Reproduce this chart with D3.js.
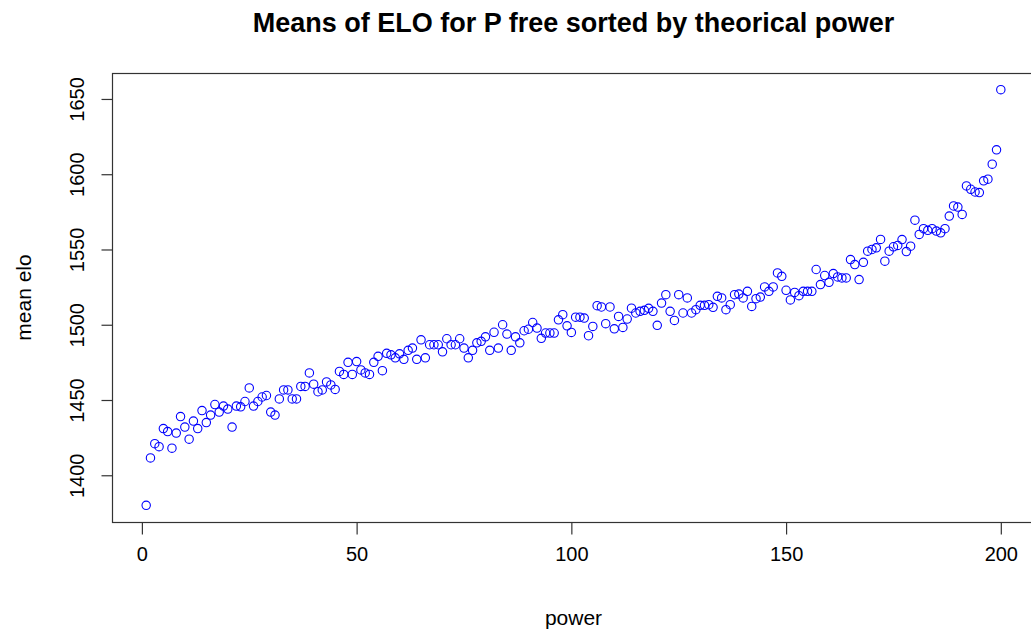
<!DOCTYPE html>
<html>
<head>
<meta charset="utf-8">
<script src="https://cdn.jsdelivr.net/npm/d3@7"></script>
<style>
  html, body { margin: 0; padding: 0; background: #fff; }
  text { font-family: "Liberation Sans", Arial, sans-serif; fill: #000; }
</style>
</head>
<body>
<svg id="chart" width="1031" height="631"></svg>
<script>
// power index 1..200 and mean ELO values
const power = d3.range(1, 201);
const meanElo = [
  1380, 1411.5, 1421, 1419, 1431, 1429, 1418, 1428, 1439, 1432,
  1424, 1436, 1431, 1443, 1435, 1440, 1447, 1442, 1446, 1444,
  1432, 1446, 1445.5, 1449, 1458, 1446, 1449, 1452, 1453, 1442,
  1440, 1450.7, 1456.7, 1456.7, 1450.7, 1450.7, 1459, 1459, 1468, 1460.5,
  1455.5, 1456.7, 1462, 1460, 1457, 1469, 1467, 1475, 1467, 1475.5,
  1470, 1468, 1467, 1475, 1479, 1469.5, 1481, 1480, 1478, 1480.7,
  1477, 1483, 1484.5, 1477, 1490, 1478, 1486.7, 1486.7, 1486.7, 1482,
  1490.7, 1486.7, 1486.7, 1490.7, 1484.5, 1478, 1483, 1488, 1489, 1492,
  1483, 1495, 1484.5, 1500, 1493.8, 1483, 1492, 1488, 1496, 1497,
  1501.5, 1497.8, 1491, 1494.5, 1494.5, 1494.5, 1503.3, 1506.7, 1499.3, 1494.9,
  1505, 1505, 1504.4, 1492.7, 1498.9, 1512.7, 1511.8, 1500.7, 1511.8, 1497.3,
  1505.5, 1498.2, 1503.8, 1511, 1507.8, 1508.9, 1509.6, 1510.9, 1508.9, 1499.6,
  1514.4, 1520, 1508.9, 1502.9, 1520, 1507.8, 1517.8, 1507.8, 1510, 1512.9,
  1512.9, 1513.3, 1511.6, 1518.9, 1517.8, 1510, 1513.3, 1520, 1520.4, 1517.8,
  1522.2, 1512.2, 1517.3, 1518.4, 1525.1, 1522.2, 1525.1, 1534.4, 1532.2, 1522.9,
  1516.5, 1521.5, 1519.3, 1522.2, 1522.2, 1522.2, 1536.7, 1526.7, 1532.7, 1528.2,
  1534, 1531.8, 1531.1, 1531.1, 1543.3, 1540, 1530, 1541.5, 1548.9, 1550,
  1551.1, 1556.7, 1542.2, 1548.9, 1551.8, 1552.7, 1556.6, 1548.6, 1552.2, 1569.5,
  1560, 1563.8, 1562.7, 1563.8, 1562.2, 1561.1, 1563.8, 1572.2, 1578.9, 1578.2,
  1573.3, 1592.2, 1590, 1588.2, 1587.8, 1595.6, 1596.7, 1606.7, 1616.2, 1656.2
];
const xTicks = [0, 50, 100, 150, 200];
const yTicks = [1400, 1450, 1500, 1550, 1600, 1650];

const titleText = "Means of ELO for P free sorted by theorical power";
const xLabel = "power";
const yLabel = "mean elo";

const svg = d3.select("#chart");
const mL = 112, mR = 1035, mT = 73, mB = 522;

// R-style 4% range extension
const xr = d3.extent(power), xpad = (xr[1] - xr[0]) * 0.04;
const yr = d3.extent(meanElo), ypad = (yr[1] - yr[0]) * 0.04;

const x = d3.scaleLinear().domain([xr[0] - xpad, xr[1] + xpad]).range([mL, mR]);
const y = d3.scaleLinear().domain([yr[0] - ypad, yr[1] + ypad]).range([mB, mT]);

// box
svg.append("rect")
  .attr("x", mL + 0.5).attr("y", mT + 0.5)
  .attr("width", mR - mL).attr("height", mB - mT)
  .attr("fill", "none").attr("stroke", "#333").attr("stroke-width", 1.2);

// x axis
const xAxis = d3.axisBottom(x).tickValues(xTicks).tickSize(12).tickPadding(12).tickFormat(d3.format("d"));
const gx = svg.append("g").attr("transform", `translate(0,${mB + 0.5})`).call(xAxis);
gx.select(".domain").remove();
gx.selectAll("line").attr("stroke", "#333").attr("stroke-width", 1.2);
gx.selectAll("text").attr("font-size", 20).attr("font-family", "Liberation Sans, Arial, sans-serif").attr("fill", "#000");

// y axis
const yAxis = d3.axisLeft(y).tickValues(yTicks).tickSize(11).tickFormat(d3.format("d"));
const gy = svg.append("g").attr("transform", `translate(${mL + 0.5},0)`).call(yAxis);
gy.select(".domain").remove();
gy.selectAll("line").attr("stroke", "#333").attr("stroke-width", 1.2);
gy.selectAll("text")
  .attr("font-size", 20).attr("font-family", "Liberation Sans, Arial, sans-serif").attr("fill", "#000")
  .attr("text-anchor", "middle").attr("dy", null).attr("x", 0).attr("y", 0)
  .attr("transform", "translate(-29,0) rotate(-90)");

// points
svg.append("g").selectAll("circle")
  .data(power.map((p, i) => ({ p, v: meanElo[i] })))
  .join("circle")
  .attr("cx", d => x(d.p)).attr("cy", d => y(d.v))
  .attr("r", 4.2)
  .attr("fill", "none").attr("stroke", "#0000ff").attr("stroke-width", 1.1);

// title
svg.append("text")
  .attr("x", (mL + mR) / 2).attr("y", 32)
  .attr("text-anchor", "middle").attr("font-size", 27).attr("font-weight", "bold")
  .text(titleText);

// axis labels
svg.append("text")
  .attr("x", (mL + mR) / 2).attr("y", 625)
  .attr("text-anchor", "middle").attr("font-size", 21)
  .text(xLabel);
svg.append("text")
  .attr("transform", `translate(31,${(mT + mB) / 2}) rotate(-90)`)
  .attr("text-anchor", "middle").attr("font-size", 21)
  .text(yLabel);
</script>
</body>
</html>
